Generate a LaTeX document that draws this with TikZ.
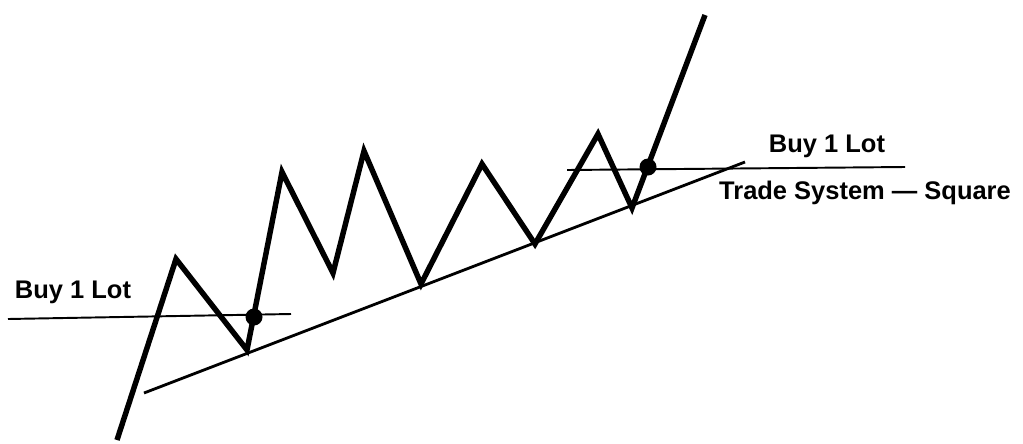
\documentclass[tikz,border=0pt]{standalone}
\usepackage{fontspec}
\setmainfont{Liberation Sans}
\usetikzlibrary{positioning, calc}
\definecolor{ink}{gray}{0.0}

\begin{document}
\begin{tikzpicture}[
  x=0.02cm, y=-0.02cm,
  font=\fontsize{14.5}{17}\selectfont\bfseries,
  price/.style={draw=ink, line width=3.1pt, line join=miter, line cap=butt},
  trend/.style={draw=ink, line width=1.6pt},
  level/.style={draw=ink, line width=1.1pt},
  lbl/.style={text=ink, inner sep=0pt},
  dot/.style={circle, fill=ink, inner sep=0pt, minimum size=0.34cm},
]
\useasboundingbox (0,0) rectangle (1023,443);

% price swings
\coordinate (p0)  at (117,440);
\coordinate (p1)  at (176,259);
\coordinate (p2)  at (247,350);
\coordinate (p3)  at (282,172);
\coordinate (p4)  at (333,273);
\coordinate (p5)  at (364,151);
\coordinate (p6)  at (421,284);
\coordinate (p7)  at (482,164);
\coordinate (p8)  at (535,244);
\coordinate (p9)  at (598,134);
\coordinate (p10) at (632,208);
\coordinate (p11) at (705,15);

% trend line and entry levels
\coordinate (tA) at (144,393);
\coordinate (tB) at (745,162);
\coordinate (lA) at (8,319);
\coordinate (lB) at (291,314);
\coordinate (rA) at (567,170);
\coordinate (rB) at (905,167);

\draw[trend] (tA) -- (tB);
\draw[level] (lA) -- (lB);
\draw[level] (rA) -- (rB);
\draw[price] (p0) -- (p1) -- (p2) -- (p3) -- (p4) -- (p5) -- (p6)
  -- (p7) -- (p8) -- (p9) -- (p10) -- (p11);

\node[dot] (e1) at (254,317) {};
\node[dot] (e2) at (648,167) {};

\node[lbl] (buyL) at (73,292)  {Buy 1 Lot};
\node[lbl] (buyR) at (827,146) {Buy 1 Lot};
\node[lbl] (sys)  at (865,193) {Trade System --- Square};
\end{tikzpicture}
\end{document}
